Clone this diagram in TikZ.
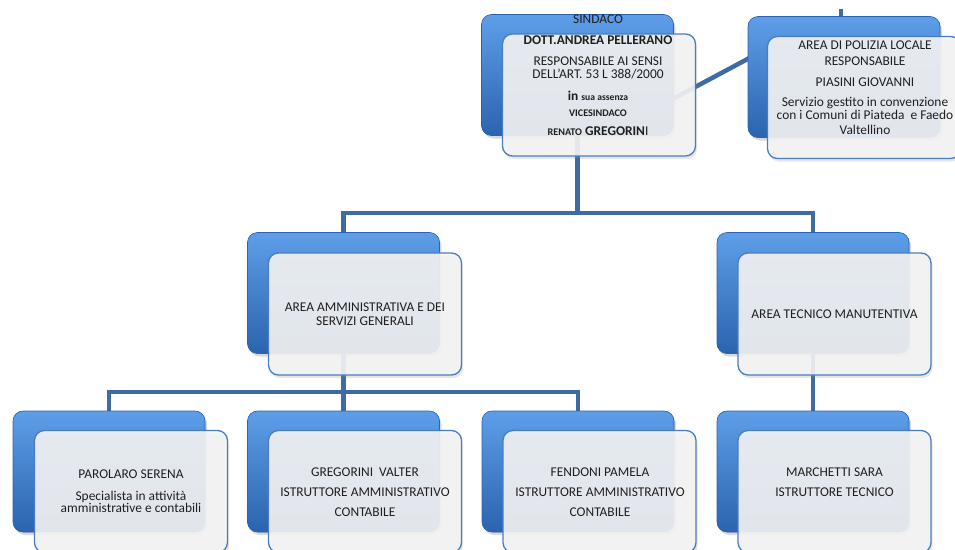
\documentclass[tikz,border=0pt]{standalone}
\usepackage{fontspec}
\setmainfont{Carlito}
\usetikzlibrary{shadows, calc}
\definecolor{linkblue}{HTML}{3F6BA3}
\definecolor{boxtop}{HTML}{5E9EE8}
\definecolor{boxbot}{HTML}{2B63AF}
\definecolor{frameblue}{HTML}{4A7DBF}
\definecolor{paper}{HTML}{F4F4F4}

\begin{document}
\begin{tikzpicture}[x=1pt, y=-1pt,
    back/.style={rounded corners=10pt, minimum width=192pt, minimum height=121pt,
        fill=boxbot, top color=boxtop, bottom color=boxbot, draw=boxbot, line width=0.6pt,
        drop shadow={shadow xshift=2pt, shadow yshift=-3pt, opacity=0.3}},
    front/.style={rounded corners=10pt, minimum width=193pt, minimum height=122pt,
        draw=frameblue, line width=1.3pt, fill=paper, fill opacity=0.9,
        drop shadow={shadow xshift=1.5pt, shadow yshift=-3pt, opacity=0.2}},
    link/.style={draw=linkblue, line width=4.5pt},
    txt/.style={align=center, inner sep=0pt, text=black!88,
        font=\fontsize{13.4}{14}\selectfont}]
        \useasboundingbox (0,0) rectangle (955,549);

        \coordinate (S) at (577.5,75);
        \coordinate (P) at (844,77);
        \coordinate (AA) at (343.5,293);
        \coordinate (AT) at (813,293);
        \coordinate (D1) at (109,471.5);
        \coordinate (D2) at (343.5,471.5);
        \coordinate (D3) at (578,471.5);
        \coordinate (D4) at (813,471.5);
        \coordinate (bus) at (577.5,213);
        \coordinate (bus2) at (343.5,392);
        \coordinate (ast) at (577.5,150);
        \coordinate (tip) at (841,9);
        \coordinate (tipB) at (841,18);

        \draw[link] (S) -- (bus);
        \draw[link] (AA) |- (bus) -| (AT);
        \draw[link] ($(ast)!0.36!(tip)$) -- ($(ast)!0.655!(tip)$);
        \draw[link] (tip) -- (tipB);
        \draw[link] (AA) -- (D2);
        \draw[link] (D1) |- (bus2) -| (D3);
        \draw[link] (AT) -- (D4);

        \node[back] (sindB) at (S) {};
        \node[front] (sindF) at ([shift={(21.5,20)}]S) {};
        \node[txt, anchor=north] (sind) at (598,14.7) {SINDACO\\[7pt]
            \textbf{DOTT.ANDREA PELLERANO}\\[6.5pt]
            RESPONSABILE AI SENSI\\[-0.5pt]
            DELL'ART. 53 L 388/2000\\[8pt]
            \textbf{in} {\fontsize{9.6}{10}\selectfont\bfseries sua assenza}\\[2pt]
            {\fontsize{10.2}{11}\selectfont\bfseries VICESINDACO}\\[5pt]
            {\fontsize{10.2}{11}\selectfont\bfseries RENATO} \textbf{GREGORIN}I};

        \node[back] (polB) at (P) {};
        \node[front] (polF) at ([shift={(20,20.5)}]P) {};
        \node[txt, anchor=north] (pol) at (865,40.7) {AREA DI POLIZIA LOCALE\\[2pt]
            RESPONSABILE\\[7pt]
            PIASINI GIOVANNI\\[6pt]
            Servizio gestito in convenzione\\[-1pt]
            con i Comuni di Piateda\ \ e Faedo\\[1pt]
            Valtellino};

        \node[back] (ammB) at (AA) {};
        \node[front] (ammF) at ([shift={(21.5,21)}]AA) {};
        \node[txt] (amm) at (ammF) {AREA AMMINISTRATIVA E DEI\\SERVIZI GENERALI};

        \node[back] (tecB) at (AT) {};
        \node[front] (tecF) at ([shift={(21.5,21)}]AT) {};
        \node[txt] (tec) at (tecF) {AREA TECNICO MANUTENTIVA};

        \node[back] (parB) at (D1) {};
        \node[front] (parF) at ([shift={(22,20)}]D1) {};
        \node[txt] (par) at (131,491) {PAROLARO SERENA\\[8pt]
            Specialista in attività\\[-1.5pt]
            amministrative e contabili};

        \node[back] (gregB) at (D2) {};
        \node[front] (gregF) at ([shift={(21.5,20)}]D2) {};
        \node[txt] (greg) at (365,492) {GREGORINI\ \ VALTER\\[6pt]
            ISTRUTTORE AMMINISTRATIVO\\[6pt]
            CONTABILE};

        \node[back] (fenB) at (D3) {};
        \node[front] (fenF) at ([shift={(21.5,20)}]D3) {};
        \node[txt] (fen) at (600,492) {FENDONI PAMELA\\[6pt]
            ISTRUTTORE AMMINISTRATIVO\\[6pt]
            CONTABILE};

        \node[back] (marB) at (D4) {};
        \node[front] (marF) at ([shift={(21.5,20)}]D4) {};
        \node[txt] (mar) at (834.5,482) {MARCHETTI SARA\\[6pt]
            ISTRUTTORE TECNICO};
    \end{tikzpicture}
\end{document}
